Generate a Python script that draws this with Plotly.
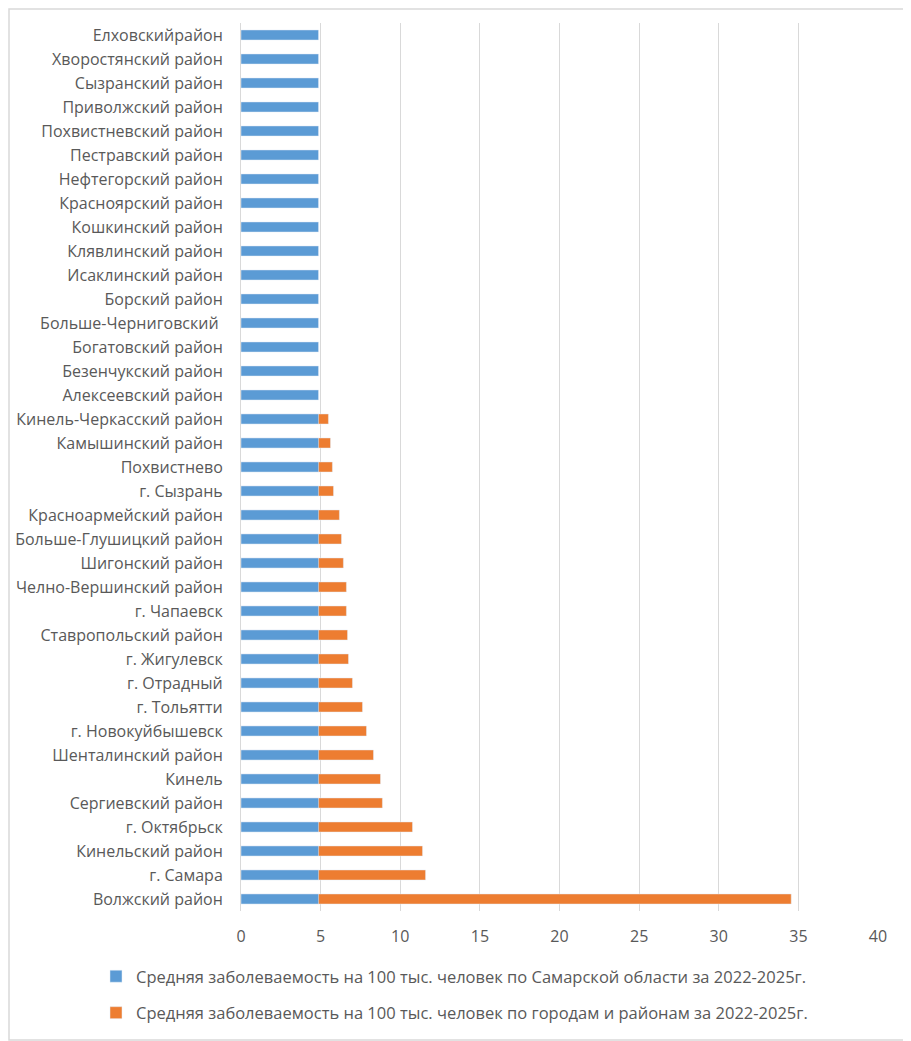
import plotly.graph_objects as go

categories = [
    "Волжский район", "г. Самара", "Кинельский район", "г. Октябрьск",
    "Сергиевский район", "Кинель", "Шенталинский район", "г. Новокуйбышевск",
    "г. Тольятти", "г. Отрадный", "г. Жигулевск", "Ставропольский район",
    "г. Чапаевск", "Челно-Вершинский район", "Шигонский район",
    "Больше-Глушицкий район", "Красноармейский район", "г. Сызрань",
    "Похвистнево", "Камышинский район", "Кинель-Черкасский район",
    "Алексеевский район", "Безенчукский район", "Богатовский район",
    "Больше-Черниговский ", "Борский район", "Исаклинский район",
    "Клявлинский район", "Кошкинский район", "Красноярский район",
    "Нефтегорский район", "Пестравский район", "Похвистневский район",
    "Приволжский район", "Сызранский район", "Хворостянский район",
    "Елховскийрайон",
]

district_values = [
    34.55, 11.59, 11.40, 10.77, 8.88, 8.76, 8.32, 7.88, 7.63, 7.00, 6.75,
    6.69, 6.62, 6.62, 6.43, 6.31, 6.18, 5.81, 5.74, 5.62, 5.49,
    0, 0, 0, 0, 0, 0, 0, 0, 0, 0, 0, 0, 0, 0, 0, 0,
]

region_average = [4.87] * len(categories)

name_region = "Средняя заболеваемость на 100 тыс. человек по Самарской области за 2022-2025г."
name_district = "Средняя заболеваемость на 100 тыс. человек по городам и районам за 2022-2025г."

FONT = "Open Sans"
TXT = "#595959"

fig = go.Figure()
fig.add_trace(go.Bar(
    y=categories, x=district_values, orientation="h",
    name=name_district, marker_color="#ED7D31", legendrank=2,
    legendgroup="b",
))
fig.add_trace(go.Bar(
    y=categories, x=region_average, orientation="h",
    name=name_region, marker_color="#5B9BD5", legendrank=1,
    legendgroup="a",
))

# page has an 8px body margin; figure sized to fit the window
OFF = 8
W, H = 911 - OFF, 1041 - OFF
ml, mr, mt, mb = 241 - OFF, 33, 23 - OFF, 130
pw, ph = W - ml - mr, H - mt - mb

fig.update_layout(
    width=W, height=H,
    margin=dict(l=ml, r=mr, t=mt, b=mb, autoexpand=False),
    barmode="overlay", bargap=0.58,
    paper_bgcolor="white", plot_bgcolor="white",
    font=dict(family=FONT, size=16, color=TXT),
    showlegend=True,
    legend=dict(
        orientation="v", x=(96 - OFF - ml) / pw, xanchor="left",
        y=(H - mb - (959 - OFF)) / ph, yanchor="top",
        font=dict(family=FONT, size=16.5, color=TXT),
        tracegroupgap=12, bgcolor="rgba(0,0,0,0)",
    ),
    xaxis=dict(
        range=[0, 40], dtick=5, showgrid=True, gridcolor="#D9D9D9",
        gridwidth=1, zeroline=False, showline=False, ticks="",
        tickfont=dict(family=FONT, size=16, color=TXT),
        ticklabelstandoff=14, fixedrange=True, automargin=False,
    ),
    yaxis=dict(
        type="category", showgrid=False, zeroline=False,
        showline=True, linecolor="#D9D9D9", linewidth=1, ticks="",
        tickfont=dict(family=FONT, size=16, color=TXT),
        ticklabelstandoff=14, fixedrange=True, automargin=False,
    ),
    shapes=[dict(
        type="rect", xref="paper", yref="paper",
        x0=(1 - ml) / pw, x1=(W - 1 - ml) / pw,
        y0=-(mb - 1) / ph, y1=1 + (mt - 1) / ph,
        line=dict(color="#D9D9D9", width=1.5), fillcolor="rgba(0,0,0,0)",
        layer="below",
    )],
)

fig.write_html("out.html")
